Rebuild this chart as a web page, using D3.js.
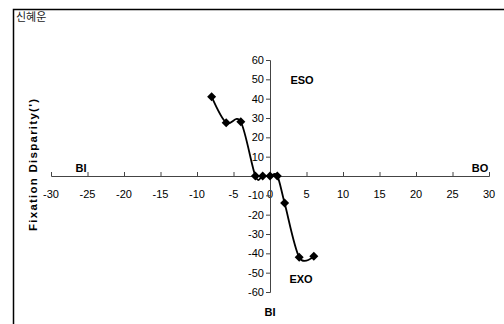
<!DOCTYPE html>
<html><head><meta charset="utf-8">
<script src="https://cdn.jsdelivr.net/npm/d3@7"></script>
<style>body{margin:0;background:#fff}svg{display:block}</style>
</head><body>
<svg id="c" width="504" height="324"></svg>
<script>
const xVals = [-8, -6, -4, -2, -1, 0, 1, 2, 4, 6];
const yVals = [41, 27.5, 28, 0, 0, 0, 0, -14, -42, -41.5];
const xTicks = [-30, -25, -20, -15, -10, -5, 0, 5, 10, 15, 20, 25, 30];
const yTicks = [-60, -50, -40, -30, -20, -10, 10, 20, 30, 40, 50, 60];
const title = "신혜운";
const yTitle = "Fixation Disparity(')";

const svg = d3.select("#c");
const x = d3.scaleLinear().domain([-30, 30]).range([51, 489]);
const y = d3.scaleLinear().domain([-60, 60]).range([292, 60]);

// frame
svg.append("rect").attr("x", 13.5).attr("y", 9.5).attr("width", 600).attr("height", 400)
  .attr("fill", "none").attr("stroke", "#000").attr("stroke-width", 1.5);
svg.append("text").attr("x", 16).attr("y", 21).text(title)
  .attr("font-family", "'Noto Sans CJK KR', sans-serif").attr("font-size", 11).attr("fill", "#222");

const font = "'Liberation Sans', Arial, sans-serif";
// x axis
const xa = svg.append("g").attr("transform", `translate(0,${y(0)})`)
  .call(d3.axisTop(x).tickValues(xTicks).tickSize(4).tickFormat(""));
xa.select(".domain").attr("stroke", "#444");
xa.selectAll(".tick line").attr("stroke", "#444");
svg.append("g").selectAll("text").data(xTicks).join("text")
  .attr("x", d => x(d)).attr("y", y(0) + 22).attr("text-anchor", "middle")
  .attr("font-family", font).attr("font-size", 11).attr("fill", "#000").text(d => d);
// y axis
const ya = svg.append("g").attr("transform", `translate(${x(0)},0)`)
  .call(d3.axisLeft(y).tickValues(yTicks).tickSize(4).tickFormat(""));
ya.select(".domain").attr("stroke", "#444");
ya.selectAll(".tick line").attr("stroke", "#444");
svg.append("g").selectAll("text").data(yTicks).join("text")
  .attr("x", x(0) - 6).attr("y", d => y(d) + 4).attr("text-anchor", "end")
  .attr("font-family", font).attr("font-size", 11).attr("fill", "#000").text(d => d);

// line
const pts = xVals.map((v, i) => [v, yVals[i]]);
svg.append("path").datum(pts)
  .attr("d", d3.line().x(d => x(d[0])).y(d => y(d[1])).curve(d3.curveCatmullRom.alpha(0)))
  .attr("fill", "none").attr("stroke", "#000").attr("stroke-width", 1.8);
svg.append("g").selectAll("path").data(pts).join("path")
  .attr("transform", d => `translate(${x(d[0])},${y(d[1])})`)
  .attr("d", "M0,-4.5L4.5,0L0,4.5L-4.5,0Z").attr("fill", "#000");

// labels
const bold = (t, px, py, anchor) => svg.append("text").attr("x", px).attr("y", py)
  .attr("text-anchor", anchor || "middle").attr("font-family", font).attr("font-size", 11)
  .attr("font-weight", "bold").text(t);
bold("ESO", 302, 84);
bold("EXO", 301, 283);
bold("BI", 270, 316);
bold("BI", 81, 172);
bold("BO", 480, 172);
svg.append("text").attr("transform", "translate(37,165) rotate(-90)")
  .attr("text-anchor", "middle").attr("font-family", font).attr("font-size", 11.5)
  .attr("font-weight", "bold").attr("textLength", 132).attr("lengthAdjust", "spacing").text(yTitle);
</script>
</body></html>
